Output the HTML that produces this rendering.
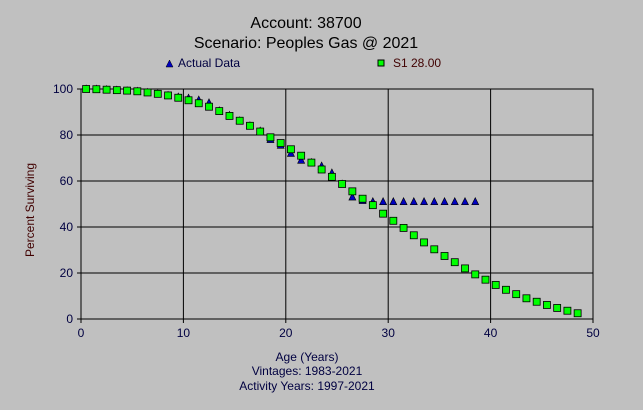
<!DOCTYPE html>
<html><head><meta charset="utf-8"><style>
html,body{margin:0;padding:0;background:#c0c0c0;}
svg{display:block;font-family:"Liberation Sans",sans-serif;}
</style></head><body>
<svg id="chart" width="643" height="410">
<rect width="643" height="410" fill="#c0c0c0"/>
<text x="306" y="28" font-size="16" text-anchor="middle">Account: 38700</text>
<text x="306" y="48" font-size="16" text-anchor="middle">Scenario: Peoples Gas @ 2021</text>
<g>
<polygon points="166,67 169.5,60 173,67" fill="#0000c0" stroke="#000" stroke-width="0.5"/>
<text x="178" y="67" font-size="12" fill="#000040">Actual Data</text></g>
<g>
<rect x="378" y="60" width="6" height="6" fill="#00ff00" stroke="#000"/>
<text x="393" y="67" font-size="12" fill="#400000">S1 28.00</text></g>
<g id="grid"></g>
<g id="marks"></g>
<text transform="translate(34,210) rotate(-90)" font-size="12" text-anchor="middle" fill="#400000">Percent Surviving</text>
<text x="307" y="361" font-size="12" text-anchor="middle" fill="#000040">Age (Years)</text>
<text x="307" y="375" font-size="12" text-anchor="middle" fill="#000040">Vintages: 1983-2021</text>
<text x="307" y="390" font-size="12" text-anchor="middle" fill="#000040">Activity Years: 1997-2021</text>
</svg>
<script>
const xTicks=[0,10,20,30,40,50];
const yTicks=[0,20,40,60,80,100];
const actualAges=[0.5,1.5,2.5,3.5,4.5,5.5,6.5,7.5,8.5,9.5,10.5,11.5,12.5,13.5,14.5,15.5,16.5,17.5,18.5,19.5,20.5,21.5,22.5,23.5,24.5,25.5,26.5,27.5,28.5,29.5,30.5,31.5,32.5,33.5,34.5,35.5,36.5,37.5,38.5];
const actualVals=[100,99.9,99.7,99.5,99.2,99,98.5,97.9,97.2,96.5,96,95.2,94,90.5,88.5,86.2,84,81.7,78,75.5,72,69,68,66.5,63.5,58.7,53,51.5,51,51,51,51,51,51,51,51,51,51,51];
const s1Ages=[0.5,1.5,2.5,3.5,4.5,5.5,6.5,7.5,8.5,9.5,10.5,11.5,12.5,13.5,14.5,15.5,16.5,17.5,18.5,19.5,20.5,21.5,22.5,23.5,24.5,25.5,26.5,27.5,28.5,29.5,30.5,31.5,32.5,33.5,34.5,35.5,36.5,37.5,38.5,39.5,40.5,41.5,42.5,43.5,44.5,45.5,46.5,47.5,48.5];
const s1Vals=[100,99.9,99.7,99.5,99.3,99,98.5,97.9,97.2,96.2,95.1,93.8,92.3,90.4,88.3,86.2,84,81.5,79,76.5,73.8,71,68,65,61.8,58.7,55.5,52.3,49.5,45.8,42.7,39.6,36.4,33.3,30.3,27.4,24.7,22,19.4,17.1,14.8,12.7,10.8,9,7.5,6.1,4.8,3.6,2.5];
const X0=81,X1=593,Y0=319,Y1=89;
const sx=v=>X0+(v-0)/(50-0)*(X1-X0);
const sy=v=>Y0-(v-0)/(100-0)*(Y0-Y1);
const NS='http://www.w3.org/2000/svg';
const grid=document.getElementById('grid'),marks=document.getElementById('marks');
function mk(tag,attrs,parent){const e=document.createElementNS(NS,tag);for(const k in attrs)e.setAttribute(k,attrs[k]);parent.appendChild(e);return e;}
const frame=mk('rect',{x:X0,y:Y1,width:X1-X0,height:Y0-Y1,fill:'none',stroke:'#000','stroke-width':1},grid);


xTicks.forEach(t=>{
 const l=mk('line',{x1:sx(t),x2:sx(t),y1:Y1,y2:Y0+4,stroke:'#000','stroke-width':1},grid);
 
 
 const tx=mk('text',{x:sx(t),y:Y0+18,'font-size':12,'text-anchor':'middle',fill:'#000040'},grid);
 tx.textContent=t;
 
 
});
yTicks.forEach(t=>{
 const l=mk('line',{x1:X0-4,x2:X1,y1:sy(t),y2:sy(t),stroke:'#000','stroke-width':1},grid);
 
 
 const tx=mk('text',{x:X0-8,y:sy(t)+4,'font-size':12,'text-anchor':'end',fill:'#000040'},grid);
 tx.textContent=t;
 
 
});
actualAges.forEach((a,i)=>{
 const x=sx(a),y=sy(actualVals[i]);
 const p=mk('polygon',{points:`${x-3.5},${y+3} ${x},${y-4} ${x+3.5},${y+3}`,fill:'#0000c0',stroke:'#000','stroke-width':0.6},marks);
 
 
});
s1Ages.forEach((a,i)=>{
 const x=sx(a),y=sy(s1Vals[i]);
 const r=mk('rect',{x:x-3.5,y:y-3.5,width:7,height:7,fill:'#00ff00',stroke:'#000','stroke-width':0.8},marks);
 
 
});
</script>
</body></html>
